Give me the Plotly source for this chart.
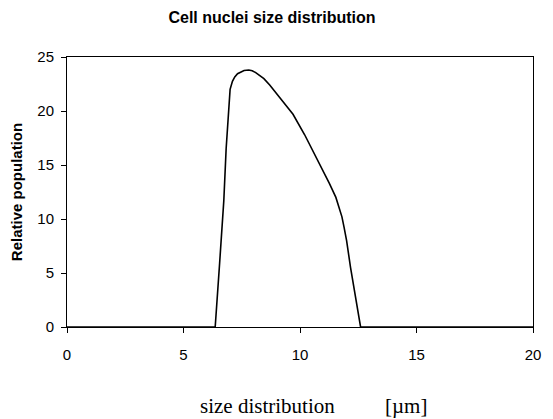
import plotly.graph_objects as go

size_um = [0, 6.36, 6.55, 6.73, 6.83, 6.92, 7.0, 7.1, 7.2, 7.32, 7.45, 7.6, 7.8, 7.95, 8.1, 8.3,
           8.45, 8.7, 9.0, 9.35, 9.7, 10.2, 10.7, 11.0, 11.26, 11.54, 11.7, 11.8, 11.89, 12.0,
           12.17, 12.46, 12.6, 20]
rel_pop = [0, 0, 5.9, 11.7, 16.5, 20.0, 22.0, 22.75, 23.15, 23.45, 23.62, 23.75, 23.8, 23.72, 23.55, 23.25,
           23.0, 22.4, 21.6, 20.7, 19.7, 17.8, 15.7, 14.4, 13.3, 12.0, 11.0, 10.2, 9.24, 8.0,
           5.5, 1.8, 0, 0]

x_ticks = [0, 5, 10, 15, 20]
y_ticks = [0, 5, 10, 15, 20, 25]

L, R, T, B, W, H = 67, 12, 57, 92, 553, 419

fig = go.Figure()
fig.add_trace(go.Scatter(x=size_um, y=rel_pop, mode="lines",
                         line=dict(color="black", width=1.6),
                         showlegend=False, cliponaxis=False))

fig.update_layout(
    width=W, height=H,
    margin=dict(l=L, r=R, t=T, b=B),
    paper_bgcolor="white", plot_bgcolor="white",
    font=dict(family="Liberation Sans, Arial, sans-serif", size=15, color="black"),
    title=dict(text="<b>Cell nuclei size distribution</b>", x=272 / W, xanchor="center",
               y=1 - 17 / H, yanchor="middle", font=dict(size=16)),
    xaxis=dict(range=[0, 20], tickvals=x_ticks, ticks="outside", ticklen=5,
               tickcolor="black", showline=True, linecolor="black", linewidth=1,
               mirror=True, showgrid=False, zeroline=False, ticklabelstandoff=9,
               tickfont=dict(size=15)),
    yaxis=dict(range=[0, 25], tickvals=y_ticks, ticks="outside", ticklen=5,
               tickcolor="black", showline=True, linecolor="black", linewidth=1,
               mirror=True, showgrid=False, zeroline=False, ticklabelstandoff=4,
               title=dict(text="<b>Relative population</b>", font=dict(size=15), standoff=11),
               tickfont=dict(size=15)),
)

pw = W - L - R
ph = H - T - B
for txt, px, py in [("size distribution", 271, 406), ("[µm]", 412, 406)]:
    fig.add_annotation(text=txt, x=(px - L) / pw, y=(H - B - py) / ph,
                       xref="paper", yref="paper", xanchor="center", yanchor="middle",
                       showarrow=False,
                       font=dict(family="Liberation Serif, Times New Roman, serif", size=21))

fig.write_html("out.html")
